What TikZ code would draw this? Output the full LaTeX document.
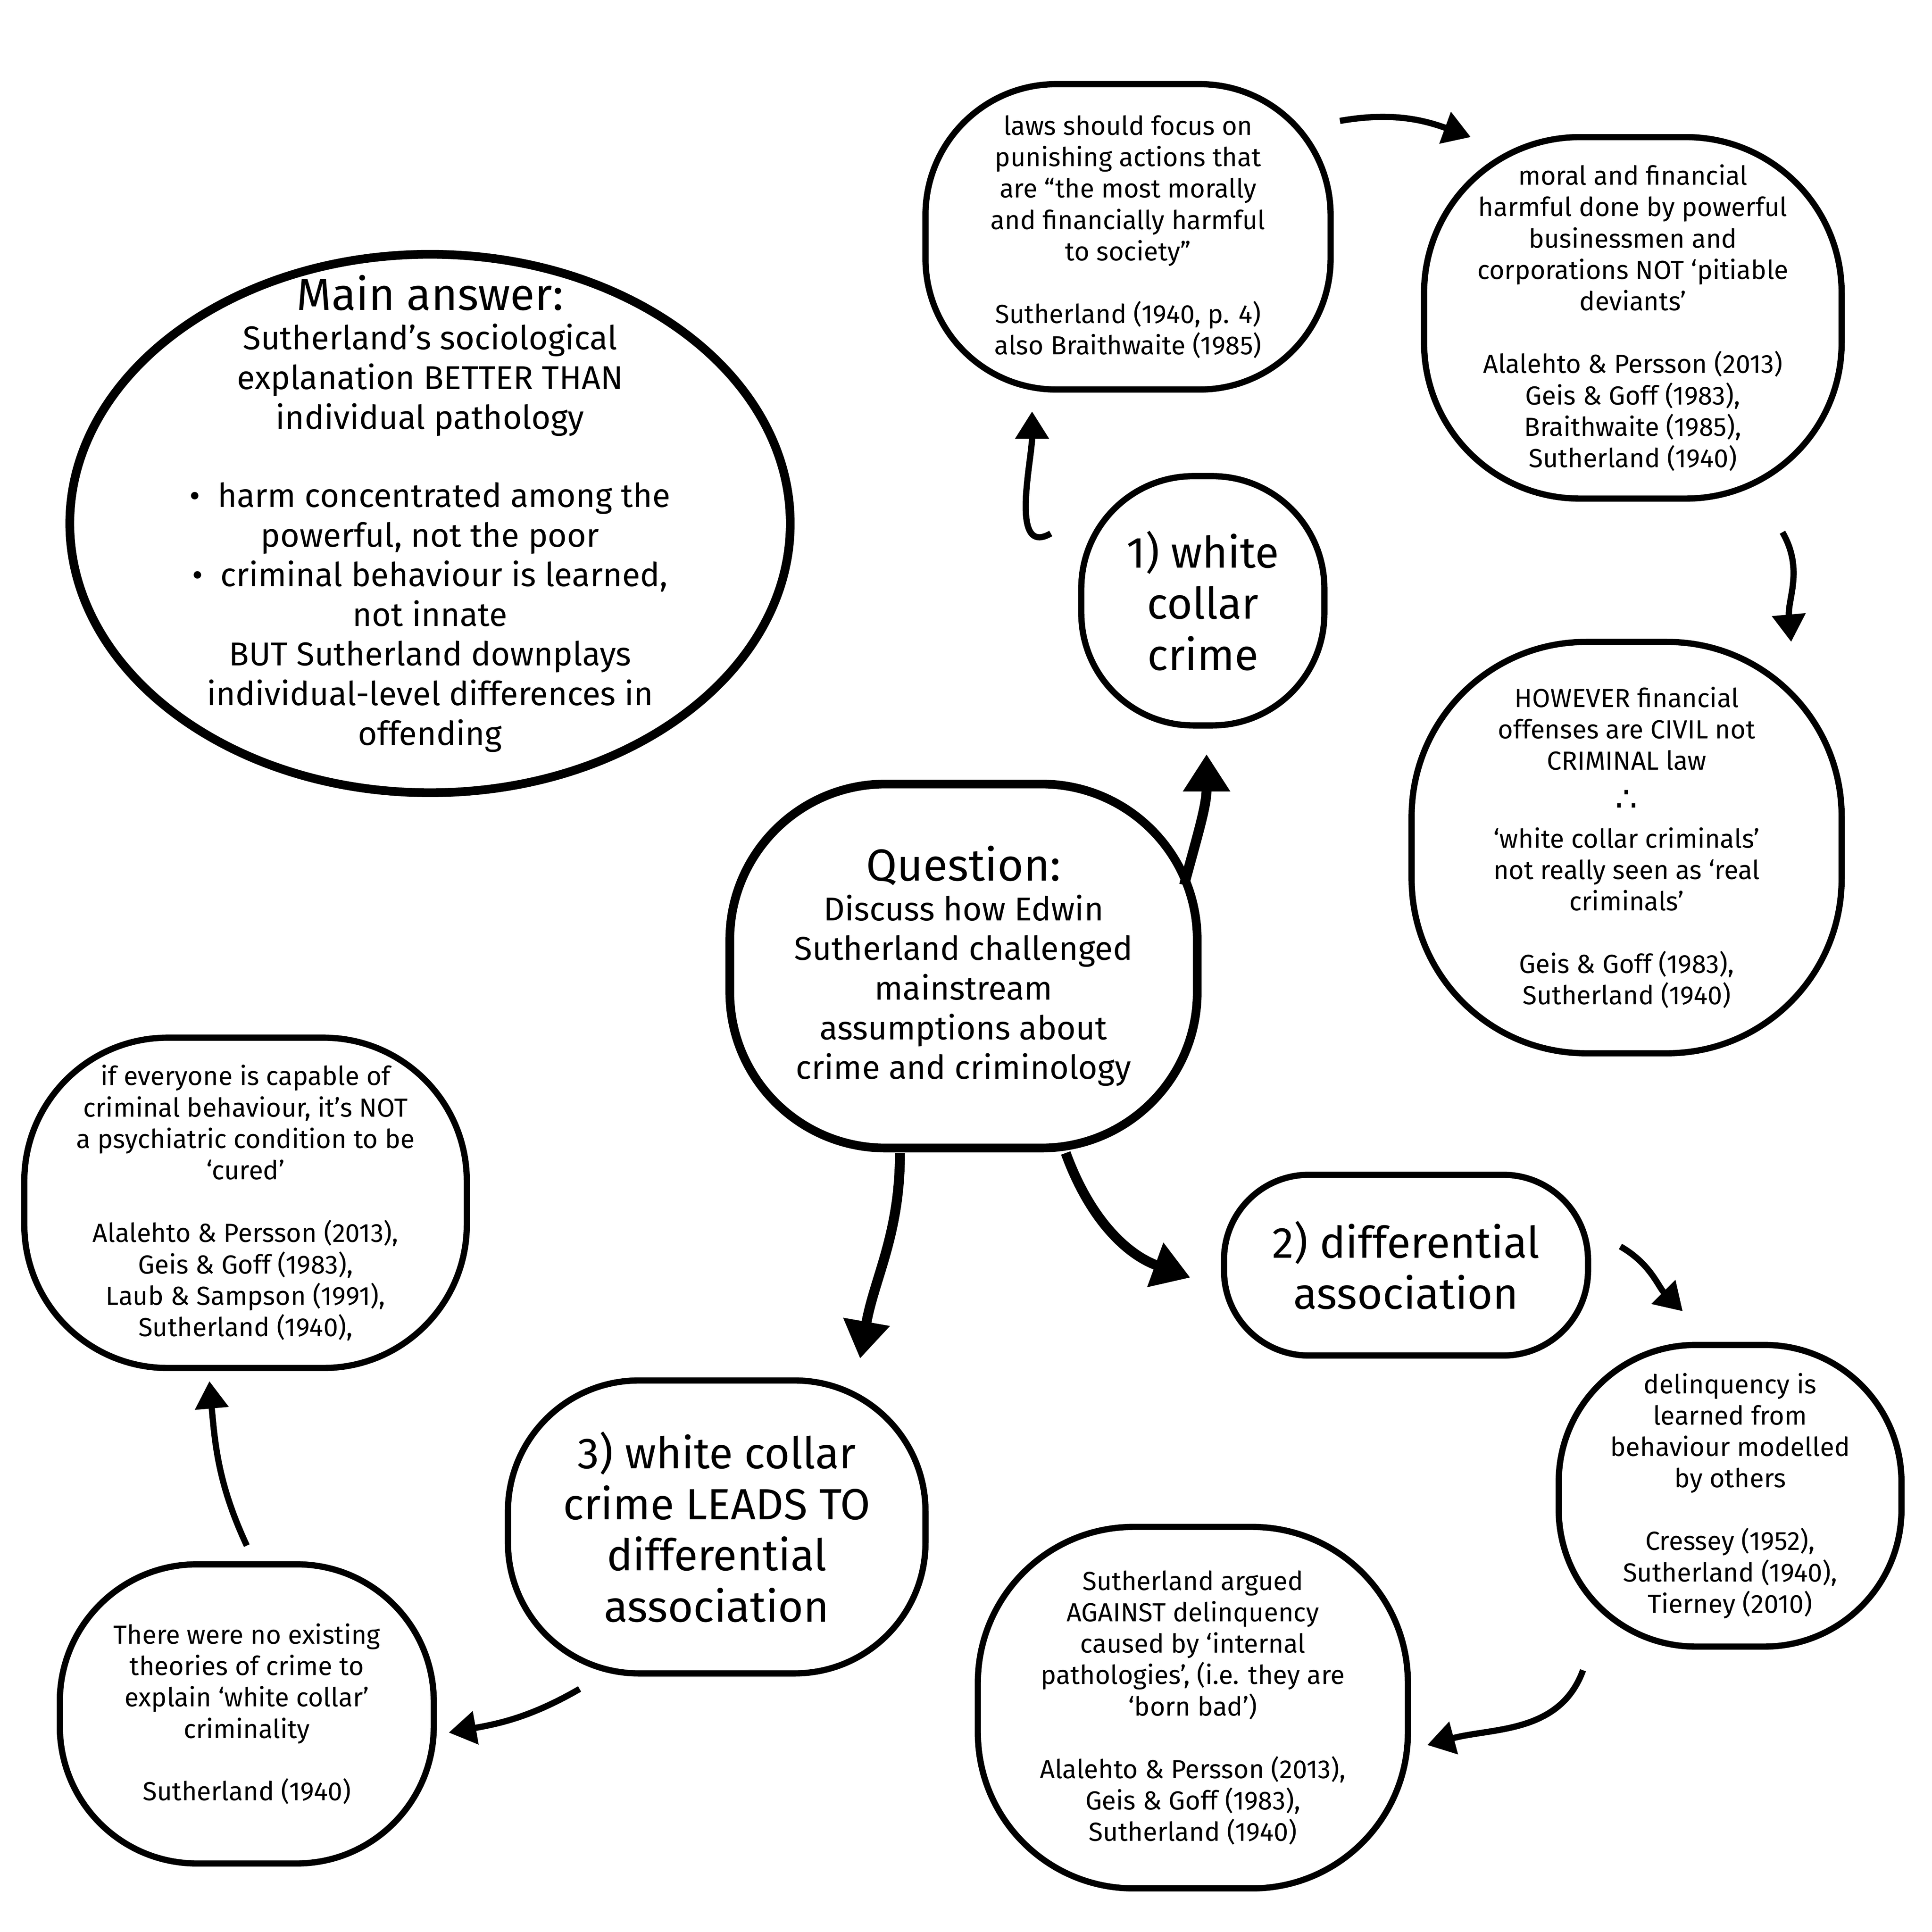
\documentclass[tikz,border=0pt]{standalone}
\usepackage{fontspec}
\setmainfont{Fira Sans}
\newfontfamily\djv{DejaVu Sans}
\usetikzlibrary{arrows.meta,shapes.geometric}
\begin{document}
\begin{tikzpicture}[x=1pt,y=-1pt,
 blob/.style={draw,line width=5pt,align=center,inner sep=0pt},
 sm/.style={font=\fontsize{21}{25.2}\selectfont},
 md/.style={font=\fontsize{26.5}{31.8}\selectfont},
 bg/.style={font=\fontsize{35}{41}\selectfont},
 arr/.style={line width=5pt,-{Triangle[length=22pt,width=26pt]}},
 thk/.style={line width=8pt,-{Triangle[length=30pt,width=36pt]}}]
\useasboundingbox (0,0) rectangle (1550,1550);
\node[draw,ellipse,line width=7pt,minimum width=578pt,minimum height=432pt] (main) at (345,420) {};
\node[align=center,md] at (345,412) {{\fontsize{36}{40}\selectfont Main answer:}\\Sutherland’s sociological\\explanation BETTER THAN\\individual pathology\\[31pt]\textbullet\ \ harm concentrated among the\\powerful, not the poor\\\textbullet\ \ criminal behaviour is learned,\\not innate\\BUT Sutherland downplays\\individual-level differences in\\offending};
\node[blob,rounded corners=125pt,line width=7pt,minimum width=375pt,minimum height=292pt,md] (q) at (773,775) {{\fontsize{36}{40}\selectfont Question:}\\Discuss how Edwin\\Sutherland challenged\\mainstream\\assumptions about\\crime and criminology};
\node[blob,rounded corners=90pt,minimum width=195pt,minimum height=200pt,bg] (w1) at (965,482) {1) white\\collar\\crime};
\node[blob,rounded corners=105pt,minimum width=325pt,minimum height=245pt,sm] (laws) at (905,190) {laws should focus on\\punishing actions that\\are “the most morally\\and financially harmful\\to society”\\[25pt]Sutherland (1940, p. 4)\\also Braithwaite (1985)};
\node[blob,rounded corners=125pt,minimum width=335pt,minimum height=290pt,sm] (moral) at (1310,255) {moral and financial\\harmful done by powerful\\businessmen and\\corporations NOT ‘pitiable\\deviants’\\[25pt]Alalehto \& Persson (2013)\\Geis \& Goff (1983),\\Braithwaite (1985),\\Sutherland (1940)};
\node[blob,rounded corners=140pt,minimum width=345pt,minimum height=330pt,sm] (how) at (1305,680) {HOWEVER financial\\offenses are CIVIL not\\CRIMINAL law\\[8pt]{\djv\fontsize{28}{28}\selectfont ∴}\\[4pt]‘white collar criminals’\\not really seen as ‘real\\criminals’\\[25pt]Geis \& Goff (1983),\\Sutherland (1940)};
\node[blob,rounded corners=68pt,minimum width=292pt,minimum height=145pt,bg] (w2) at (1128,1015) {2) differential\\association};
\node[blob,rounded corners=110pt,minimum width=275pt,minimum height=242pt,sm] (del) at (1388,1200) {delinquency is\\learned from\\behaviour modelled\\by others\\[25pt]Cressey (1952),\\Sutherland (1940),\\Tierney (2010)};
\node[blob,rounded corners=125pt,minimum width=345pt,minimum height=290pt,sm] (arg) at (957,1370) {Sutherland argued\\AGAINST delinquency\\caused by ‘internal\\pathologies’, (i.e. they are\\‘born bad’)\\[25pt]Alalehto \& Persson (2013),\\Geis \& Goff (1983),\\Sutherland (1940)};
\node[blob,rounded corners=105pt,minimum width=335pt,minimum height=235pt,bg] (w3) at (575,1225) {3) white collar\\crime LEADS TO\\differential\\association};
\node[blob,rounded corners=110pt,minimum width=300pt,minimum height=240pt,sm] (none) at (198,1375) {There were no existing\\theories of crime to\\explain ‘white collar’\\criminality\\[25pt]Sutherland (1940)};
\node[blob,rounded corners=115pt,minimum width=355pt,minimum height=265pt,sm] (every) at (197,965) {if everyone is capable of\\criminal behaviour, it’s NOT\\a psychiatric condition to be\\‘cured’\\[25pt]Alalehto \& Persson (2013),\\Geis \& Goff (1983),\\Laub \& Sampson (1991),\\Sutherland (1940),};
\draw[thk] ([shift={(177,-65)}]q.center) to[out=75,in=-90] ([shift={(3,123)}]w1.center);
\draw[thk] ([shift={(-51,150)}]q.center) to[out=-90,in=80] ([shift={(115,-135)}]w3.center);
\draw[thk] ([shift={(82,150)}]q.center) to[out=-70,in=160] ([shift={(-173,10)}]w2.center);
\draw[arr] ([shift={(-122,-54)}]w1.center) to[out=210,in=-90] ([shift={(-77,140)}]laws.center);
\draw[arr] ([shift={(170,-93)}]laws.center) to[out=10,in=160] ([shift={(-130,-145)}]moral.center);
\draw[arr] ([shift={(120,172)}]moral.center) to[out=-60,in=95] ([shift={(132,-165)}]how.center);
\draw[arr] ([shift={(172,-15)}]w2.center) to[out=-30,in=135] ([shift={(-38,-148)}]del.center);
\draw[arr] ([shift={(-118,140)}]del.center) to[out=-110,in=15] ([shift={(188,30)}]arg.center);
\draw[arr] ([shift={(-110,130)}]w3.center) to[out=-150,in=10] ([shift={(162,15)}]none.center);
\draw[arr] ([shift={(0,-135)}]none.center) to[out=115,in=-85] ([shift={(-29,143)}]every.center);
\end{tikzpicture}
\end{document}
